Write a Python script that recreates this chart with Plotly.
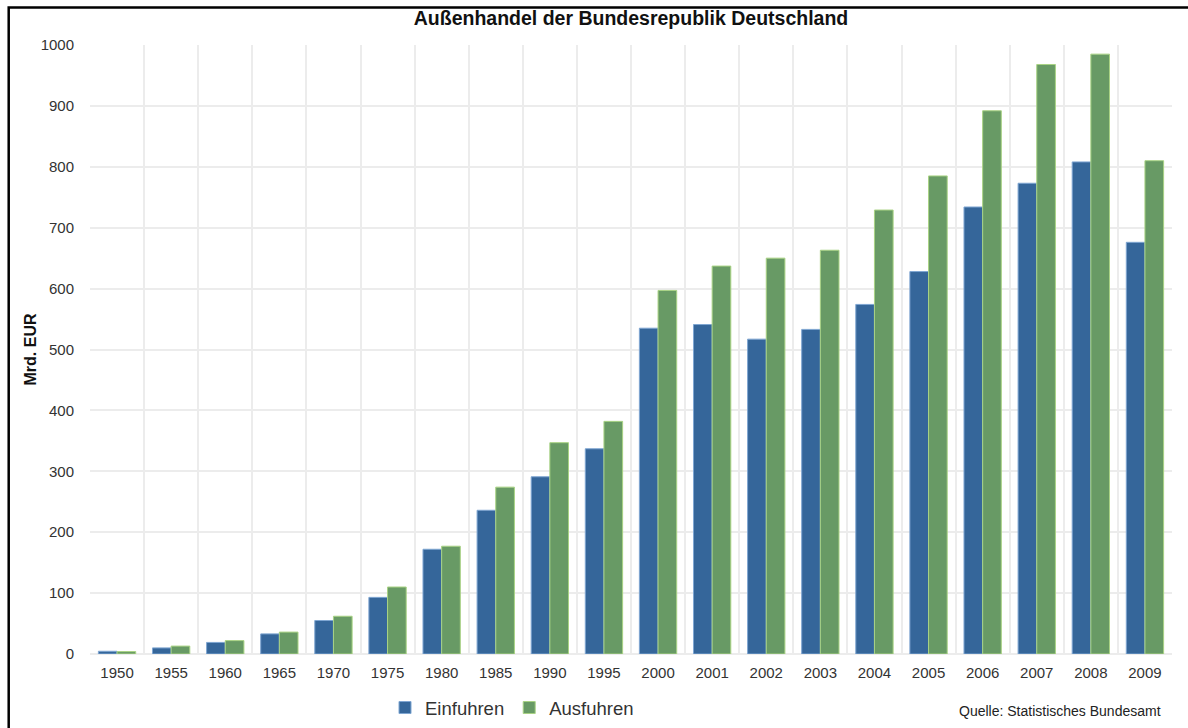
import plotly.graph_objects as go

years = ["1950", "1955", "1960", "1965", "1970", "1975", "1980", "1985", "1990", "1995",
         "2000", "2001", "2002", "2003", "2004", "2005", "2006", "2007", "2008", "2009"]
einfuhren = [4.5, 10, 19, 33, 55, 93, 172, 236, 291, 337,
             535, 541, 517, 533, 574, 628, 734, 773, 808, 676]
ausfuhren = [4, 13, 22, 36, 62, 110, 177, 274, 347, 382,
             597, 637, 650, 663, 729, 785, 892, 968, 985, 810]

FONT = "Liberation Sans, Arial, Helvetica, sans-serif"
W, H = 1188, 728
L, R, T, B = 90, 16, 45, 74
PW, PH = W - L - R, H - T - B


def px_x(px):
    return (px - L) / PW


def px_y(py):
    return (H - B - py) / PH


fig = go.Figure()
fig.add_trace(go.Bar(
    x=years, y=einfuhren, name="Einfuhren",
    marker=dict(color="#35669a", line=dict(color="#7fa6d2", width=1)),
))
fig.add_trace(go.Bar(
    x=years, y=ausfuhren, name="Ausfuhren",
    marker=dict(color="#689a65", line=dict(color="#a9d384", width=1)),
))

fig.update_layout(
    width=W, height=H,
    margin=dict(l=L, r=R, t=T, b=B, autoexpand=False),
    paper_bgcolor="white", plot_bgcolor="white",
    font=dict(family=FONT, color="#333333"),
    barmode="group", bargap=0.31, bargroupgap=0.0,
    title=dict(
        text="<b>Außenhandel der Bundesrepublik Deutschland</b>",
        font=dict(size=19.5, color="#111111", family=FONT),
        x=0.5, xref="paper", xanchor="center",
        y=1 - 18 / H, yref="container", yanchor="middle",
    ),
    xaxis=dict(
        type="category", tickson="boundaries",
        showgrid=True, gridcolor="#ececec", gridwidth=1.5,
        showline=False, zeroline=False, ticks="",
        tickfont=dict(size=15, color="#333333"),
        ticklabelstandoff=8,
    ),
    yaxis=dict(
        range=[0, 1000], dtick=100, tick0=0,
        showgrid=True, gridcolor="#ececec", gridwidth=1.5,
        zeroline=True, zerolinecolor="#ececec", zerolinewidth=1.5,
        showline=False, ticks="",
        tickfont=dict(size=15, color="#333333"),
        ticklabelstandoff=15,
        title=dict(text="<b>Mrd. EUR</b>", font=dict(size=16, color="#111111"), standoff=0),
    ),
    legend=dict(
        orientation="h", x=px_x(385), xanchor="left",
        y=px_y(708), yanchor="middle",
        font=dict(size=18.5, color="#333333"),
        bgcolor="rgba(0,0,0,0)",
    ),
    annotations=[dict(
        text="Quelle: Statistisches Bundesamt",
        xref="paper", yref="paper", x=px_x(1163), y=px_y(711),
        xanchor="right", yanchor="middle", showarrow=False,
        font=dict(size=14, color="#222222"),
    )],
    shapes=[dict(
        type="rect", xref="paper", yref="paper",
        x0=px_x(8.7), x1=px_x(1200), y0=px_y(740), y1=px_y(7.5),
        line=dict(color="black", width=2.5), layer="above",
    )],
)

fig.write_html("out.html")
